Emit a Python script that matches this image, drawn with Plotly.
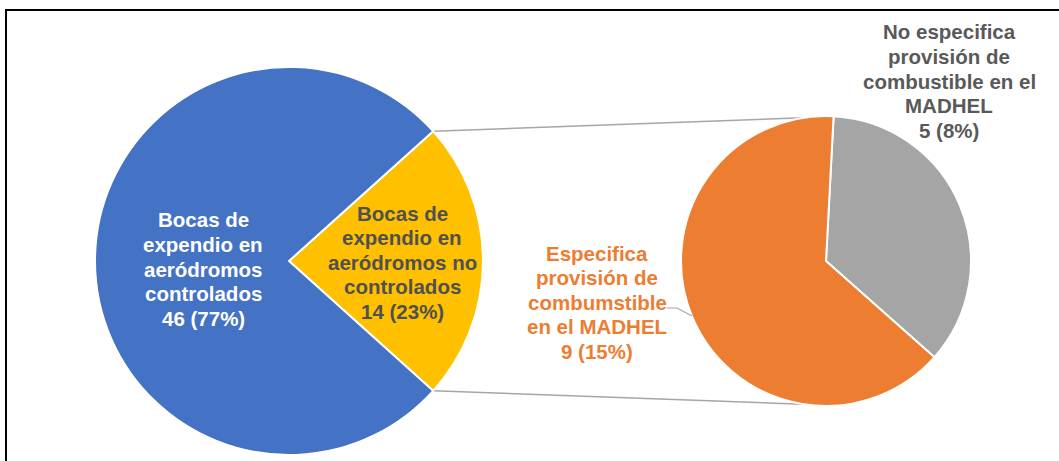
import math
import plotly.graph_objects as go

W, H = 1059, 461

# data
main_labels = ["Bocas de expendio en aeródromos no controlados",
               "Bocas de expendio en aeródromos controlados"]
main_values = [14, 46]
main_colors = ["#FFC000", "#4472C4"]

sub_labels = ["No especifica provisión de combustible en el MADHEL",
              "Especifica provisión de combumstible en el MADHEL"]
sub_values = [5, 9]
sub_colors = ["#A5A5A5", "#ED7D31"]

total = sum(main_values)


def px(x):
    return x / W


def py(y):
    return 1 - y / H


# pie geometry (pixels)
c1 = (289, 261)
r1 = 194
c2 = (826, 261)
r2 = 145

yellow_deg = main_values[0] / total * 360
rot_main = 90 - yellow_deg / 2

fig = go.Figure()

fig.add_trace(go.Pie(
    labels=main_labels, values=main_values,
    marker=dict(colors=main_colors, line=dict(color="white", width=2)),
    sort=False, direction="clockwise", rotation=rot_main,
    textinfo="none", hoverinfo="label+value+percent",
    domain=dict(x=[px(c1[0] - r1), px(c1[0] + r1)],
                y=[py(c1[1] + r1), py(c1[1] - r1)]),
    showlegend=False,
))

fig.add_trace(go.Pie(
    labels=sub_labels, values=sub_values,
    marker=dict(colors=sub_colors, line=dict(color="white", width=2)),
    sort=False, direction="clockwise", rotation=3,
    textinfo="none", hoverinfo="label+value+percent",
    domain=dict(x=[px(c2[0] - r2), px(c2[0] + r2)],
                y=[py(c2[1] + r2), py(c2[1] - r2)]),
    showlegend=False,
))

# connector lines between the yellow slice and the second pie
a = math.radians(yellow_deg / 2)
b = math.radians(9)
for s in (-1, 1):
    x0 = c1[0] + r1 * math.cos(a)
    y0 = c1[1] + s * r1 * math.sin(a)
    x1 = c2[0] - r2 * math.sin(b)
    y1 = c2[1] + s * r2 * math.cos(b)
    fig.add_shape(type="line", xref="paper", yref="paper",
                  x0=px(x0), y0=py(y0), x1=px(x1), y1=py(y1),
                  line=dict(color="#A6A6A6", width=1.5), layer="below")

# leader line for the orange label
fig.add_shape(type="path", xref="paper", yref="paper",
              path="M {} {} L {} {} L {} {}".format(px(667), py(308), px(677), py(308), px(692), py(316)),
              line=dict(color="#A6A6A6", width=1.2))

# frame
fig.add_shape(type="rect", xref="paper", yref="paper",
              x0=px(6), y0=py(470), x1=px(1070), y1=py(10),
              line=dict(color="black", width=2))


def pct(v):
    return "{} ({}%)".format(v, round(v / total * 100))


font = "Liberation Sans, Arial, sans-serif"
labels = [
    (["Bocas de", "expendio en", "aeródromos", "controlados", pct(main_values[1])], 203, 269, "white"),
    (["Bocas de", "expendio en", "aeródromos no", "controlados", pct(main_values[0])], 402, 262, "#505050"),
    (["No especifica", "provisión de", "combustible en el", "MADHEL", pct(sub_values[0])], 949, 81, "#595959"),
    (["Especifica", "provisión de", "combumstible", "en el MADHEL", pct(sub_values[1])], 597, 302, "#ED7D31"),
]
spacing = 24.5
for lines, x, y, col in labels:
    for i, line in enumerate(lines):
        fig.add_annotation(xref="paper", yref="paper", x=px(x),
                           y=py(y + (i - (len(lines) - 1) / 2) * spacing),
                           text="<b>" + line + "</b>", showarrow=False,
                           xanchor="center", yanchor="middle", align="center",
                           font=dict(family=font, size=20.5, color=col))

fig.update_layout(
    width=W, height=H,
    margin=dict(l=0, r=0, t=0, b=0),
    paper_bgcolor="white", plot_bgcolor="white",
)

fig.write_html("out.html", config={"displayModeBar": False},
               post_script="document.body.style.margin='0';")
